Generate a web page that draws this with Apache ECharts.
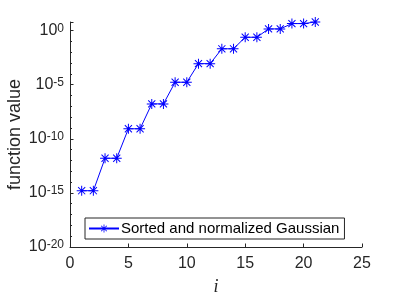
<!DOCTYPE html>
<html>
<head>
<meta charset="utf-8">
<script src="https://cdn.jsdelivr.net/npm/echarts@6/dist/echarts.min.js"></script>
<style>html,body{margin:0;padding:0;background:#fff}#c{width:399px;height:299px}</style>
</head>
<body>
<div id="c"></div>
<script>
// Data
const iValues = [1,2,3,4,5,6,7,8,9,10,11,12,13,14,15,16,17,18,19,20,21];
const fValues = [1.6e-15,1.6e-15,1.6e-12,1.6e-12,8.5e-10,8.5e-10,1.7e-7,1.7e-7,1.7e-5,1.7e-5,8.9e-4,8.9e-4,2.1e-2,2.1e-2,0.245,0.245,1.45,1.45,4.5,4.5,6.3];
const seriesName = 'Sorted and normalized Gaussian';
const xTicks = [0,5,10,15,20,25];
const yMin = 1e-20, yMax = 6.3;

const AX = '#262626';
const FONT = 'Liberation Sans, Arial, sans-serif';
const star = 'path://M0,4.5L10,4.5L10,5.5L0,5.5Z M4.5,0L5.5,0L5.5,10L4.5,10Z M1.1,1.8L1.8,1.1L8.9,8.2L8.2,8.9Z M8.2,1.1L8.9,1.8L1.8,8.9L1.1,8.2Z';

const chart = echarts.init(document.getElementById('c'), null, {renderer:'canvas'});
chart.setOption({
  animation:false,
  backgroundColor:'#fff',
  grid:{left:70, right:37, top:22, bottom:52, containLabel:false, outerBoundsMode:'none'},
  legend:{
    left:85, top:218, orient:'vertical',
    data:[seriesName],
    borderColor:'#262626', borderWidth:1, backgroundColor:'#fff',
    padding:[3,5,3,3], itemWidth:30, itemHeight:10, itemGap:0,
    textStyle:{fontFamily:FONT, fontSize:15, color:'#000', padding:[0,0,0,-3]}
  },
  xAxis:{
    type:'value', min:xTicks[0], max:xTicks[xTicks.length-1], interval:5,
    name:'i', nameLocation:'middle', nameGap:31, nameMoveOverlap:false,
    nameTextStyle:{fontFamily:'Liberation Serif, Times New Roman, serif', fontStyle:'italic', fontSize:18, color:AX},
    axisLine:{show:true, lineStyle:{color:AX, width:1}},
    axisTick:{show:true, inside:true, length:3.5, lineStyle:{color:AX}},
    axisLabel:{fontFamily:FONT, fontSize:16, color:AX, margin:9},
    splitLine:{show:false}
  },
  yAxis:[{
    type:'log', logBase:10, min:yMin, max:yMax, interval:5,
    name:'function value', nameLocation:'middle', nameGap:46, nameMoveOverlap:false,
    nameTextStyle:{fontFamily:FONT, fontSize:18, color:AX},
    axisLine:{show:true, lineStyle:{color:AX, width:1}},
    axisTick:{show:true, inside:true, length:3.5, lineStyle:{color:AX}},
    axisLabel:{
      fontFamily:FONT, color:AX, margin:6,
      formatter:function(v){
        const e = Math.log10(v);
        if (Math.abs(e - Math.round(e)) > 1e-6) return '';
        return '{b|10}{s|' + Math.round(e) + '}';
      },
      rich:{
        b:{fontFamily:FONT, fontSize:16, color:AX, lineHeight:16, verticalAlign:'bottom'},
        s:{fontFamily:FONT, fontSize:12, color:AX, lineHeight:16, verticalAlign:'top', padding:[0,0,6,0]}
      }
    },
    splitLine:{show:false}
  },{
    type:'log', logBase:10, min:yMin, max:yMax, interval:1, position:'left',
    axisLine:{show:false},
    axisTick:{show:true, inside:true, length:2, lineStyle:{color:AX}},
    axisLabel:{show:false},
    splitLine:{show:false}
  }],
  series:[{
    name:seriesName, type:'line', yAxisIndex:0,
    data:iValues.map((x,k)=>[x,fValues[k]]),
    symbol:star, symbolSize:10,
    lineStyle:{color:'#0000ff', width:1},
    itemStyle:{color:'#0000ff'},
    showSymbol:true
  }]
});
</script>
</body>
</html>
